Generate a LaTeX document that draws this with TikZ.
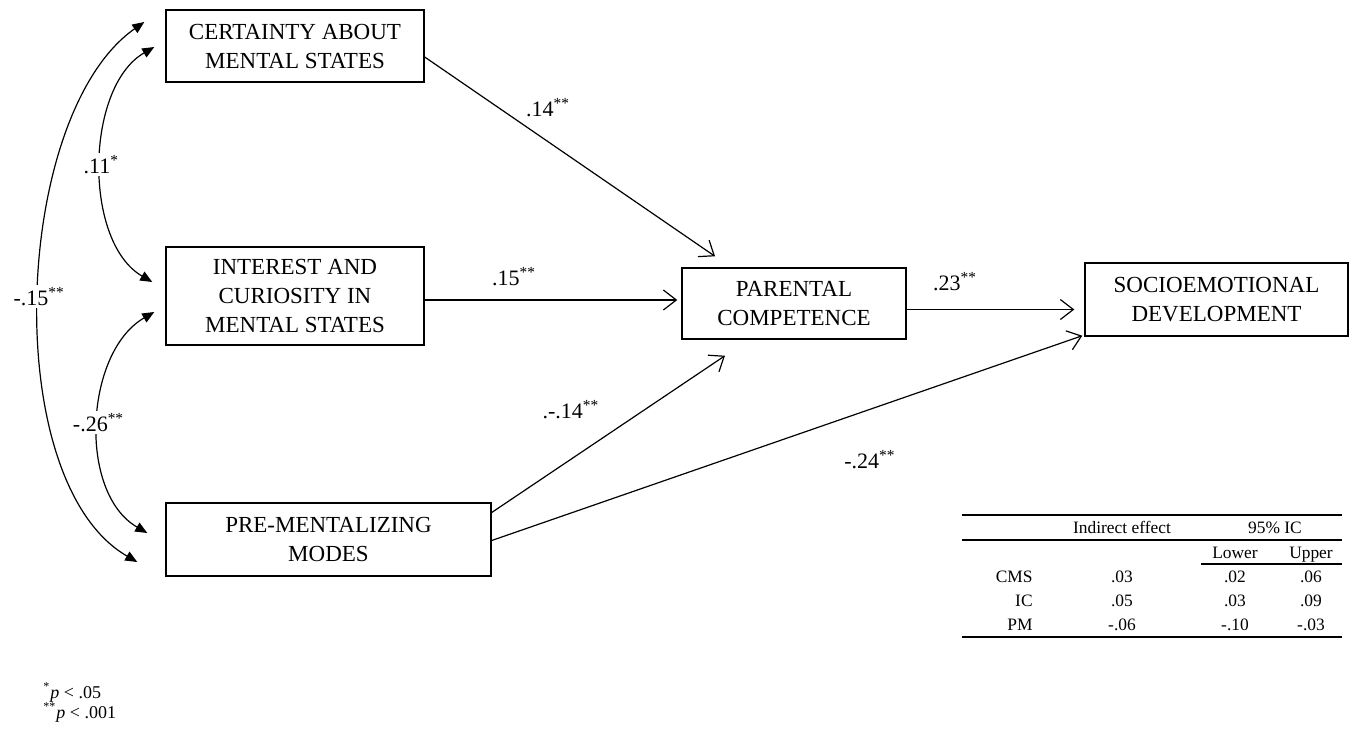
\documentclass[tikz,border=0pt]{standalone}
\usepackage{fontspec}
\setmainfont{Liberation Serif}
\usepackage{tikz}
\usetikzlibrary{arrows.meta}
\newcommand{\boxsize}{\fontsize{11.5pt}{14.5pt}\selectfont}
\newcommand{\labsize}{\fontsize{11pt}{13pt}\selectfont}
\newcommand{\tabsize}{\fontsize{8.7pt}{10pt}\selectfont}
\newcommand{\notesize}{\fontsize{9pt}{10pt}\selectfont}
\newcommand{\sig}[1]{\textsuperscript{#1}}
\tikzset{
  var/.style={draw, line width=0.7pt, align=center, font=\boxsize, inner sep=2pt},
  effect/.style={line width=0.6pt, -{Straight Barb[length=6.5pt,width=10pt]}},
  corr/.style={line width=0.6pt, {Triangle[length=6pt,width=5pt]}-{Triangle[length=6pt,width=5pt]}},
  coef/.style={font=\labsize, fill=white, inner sep=1pt},
  cell/.style={font=\tabsize, inner sep=0pt, anchor=base},
  note/.style={font=\notesize, inner sep=0pt, anchor=base west},
  rule/.style={line width=0.7pt}
}

\begin{document}
\begin{tikzpicture}[x=0.5pt, y=-0.5pt]
  \useasboundingbox (0,0) rectangle (1353,734);

  % Variables
  \node[var, minimum width=129pt, minimum height=36pt] (cms) at (295,46) {CERTAINTY ABOUT\\MENTAL STATES};
  \node[var, minimum width=129pt, minimum height=49pt] (ic) at (295,296) {INTEREST AND\\CURIOSITY IN\\MENTAL STATES};
  \node[var, minimum width=162.5pt, minimum height=36.5pt] (pm) at (328.5,539.5) {PRE-MENTALIZING\\MODES};
  \node[var, minimum width=112pt, minimum height=35.5pt] (pc) at (794,303.5) {PARENTAL\\COMPETENCE};
  \node[var, minimum width=131.5pt, minimum height=36.5pt] (sd) at (1216.5,299.5) {SOCIOEMOTIONAL\\DEVELOPMENT};

  % Correlations
  \draw[corr] ([xshift=-5.5pt,yshift=-0.5pt]cms.west) to[out=210, in=150, looseness=0.87]
    node[coef] (r-cms-ic) {.11\sig{*}} ([xshift=-6.5pt,yshift=7pt]ic.west);
  \draw[corr] ([xshift=-5.5pt,yshift=-8pt]ic.west) to[out=210, in=150, looseness=0.93]
    node[coef] (r-ic-pm) {-.26\sig{**}} ([xshift=-9pt,yshift=3.25pt]pm.west);
  \draw[corr] ([xshift=-10.5pt,yshift=12pt]cms.west) to[out=215, in=150, looseness=0.76]
    node[coef] (r-cms-pm) {-.15\sig{**}} ([xshift=-14pt,yshift=-11.25pt]pm.west);

  % Paths
  \draw[effect] ([yshift=-5.5pt]cms.east) -- ([xshift=-39.5pt,yshift=5.5pt]pc.north);
  \draw[effect] ([yshift=-2pt]ic.east) -- ([xshift=-2pt,yshift=1.75pt]pc.west);
  \draw[effect] ([yshift=13.5pt]pm.east) -- ([xshift=-34.5pt,yshift=-8pt]pc.south);
  \draw[effect] ([yshift=-3pt]pc.east) -- ([xshift=-5pt,yshift=-5pt]sd.west);
  \draw[effect] ([yshift=-0.5pt]pm.east) -- ([xshift=-1pt,yshift=0.5pt]sd.south west);

  \node[coef] (b-cms-pc) at (548,108) {.14\sig{**}};
  \node[coef] (b-ic-pc) at (514,277) {.15\sig{**}};
  \node[coef] (b-pm-pc) at (571,410) {.-.14\sig{**}};
  \node[coef] (b-pc-sd) at (955,282) {.23\sig{**}};
  \node[coef] (b-pm-sd) at (870,460) {-.24\sig{**}};

  % Indirect effects table
  \draw[rule] (962,515) -- (1342,515);
  \draw[rule] (962,540) -- (1342,540);
  \draw[rule] (1201,564) -- (1342,564);
  \draw[rule] (962,637) -- (1342,637);
  \node[cell] (h-ind) at (1122,533) {Indirect effect};
  \node[cell] (h-ci) at (1275,533) {95\% IC};
  \node[cell] (h-low) at (1235,558) {Lower};
  \node[cell] (h-up) at (1311,558) {Upper};
  \node[cell, anchor=base east] (t-cms) at (1033,582) {CMS};
  \node[cell] (t-cms-ind) at (1122,582) {.03};
  \node[cell] (t-cms-low) at (1235,582) {.02};
  \node[cell] (t-cms-up) at (1311,582) {.06};
  \node[cell, anchor=base east] (t-ic) at (1033,606) {IC};
  \node[cell] (t-ic-ind) at (1122,606) {.05};
  \node[cell] (t-ic-low) at (1235,606) {.03};
  \node[cell] (t-ic-up) at (1311,606) {.09};
  \node[cell, anchor=base east] (t-pm) at (1033,630) {PM};
  \node[cell] (t-pm-ind) at (1122,630) {-.06};
  \node[cell] (t-pm-low) at (1235,630) {-.10};
  \node[cell] (t-pm-up) at (1311,630) {-.03};

  % Significance notes
  \node[note] (n-one) at (43,698) {\sig{*}\textit{p} < .05};
  \node[note] (n-two) at (43,718) {\sig{**}\textit{p} < .001};
\end{tikzpicture}
\end{document}
